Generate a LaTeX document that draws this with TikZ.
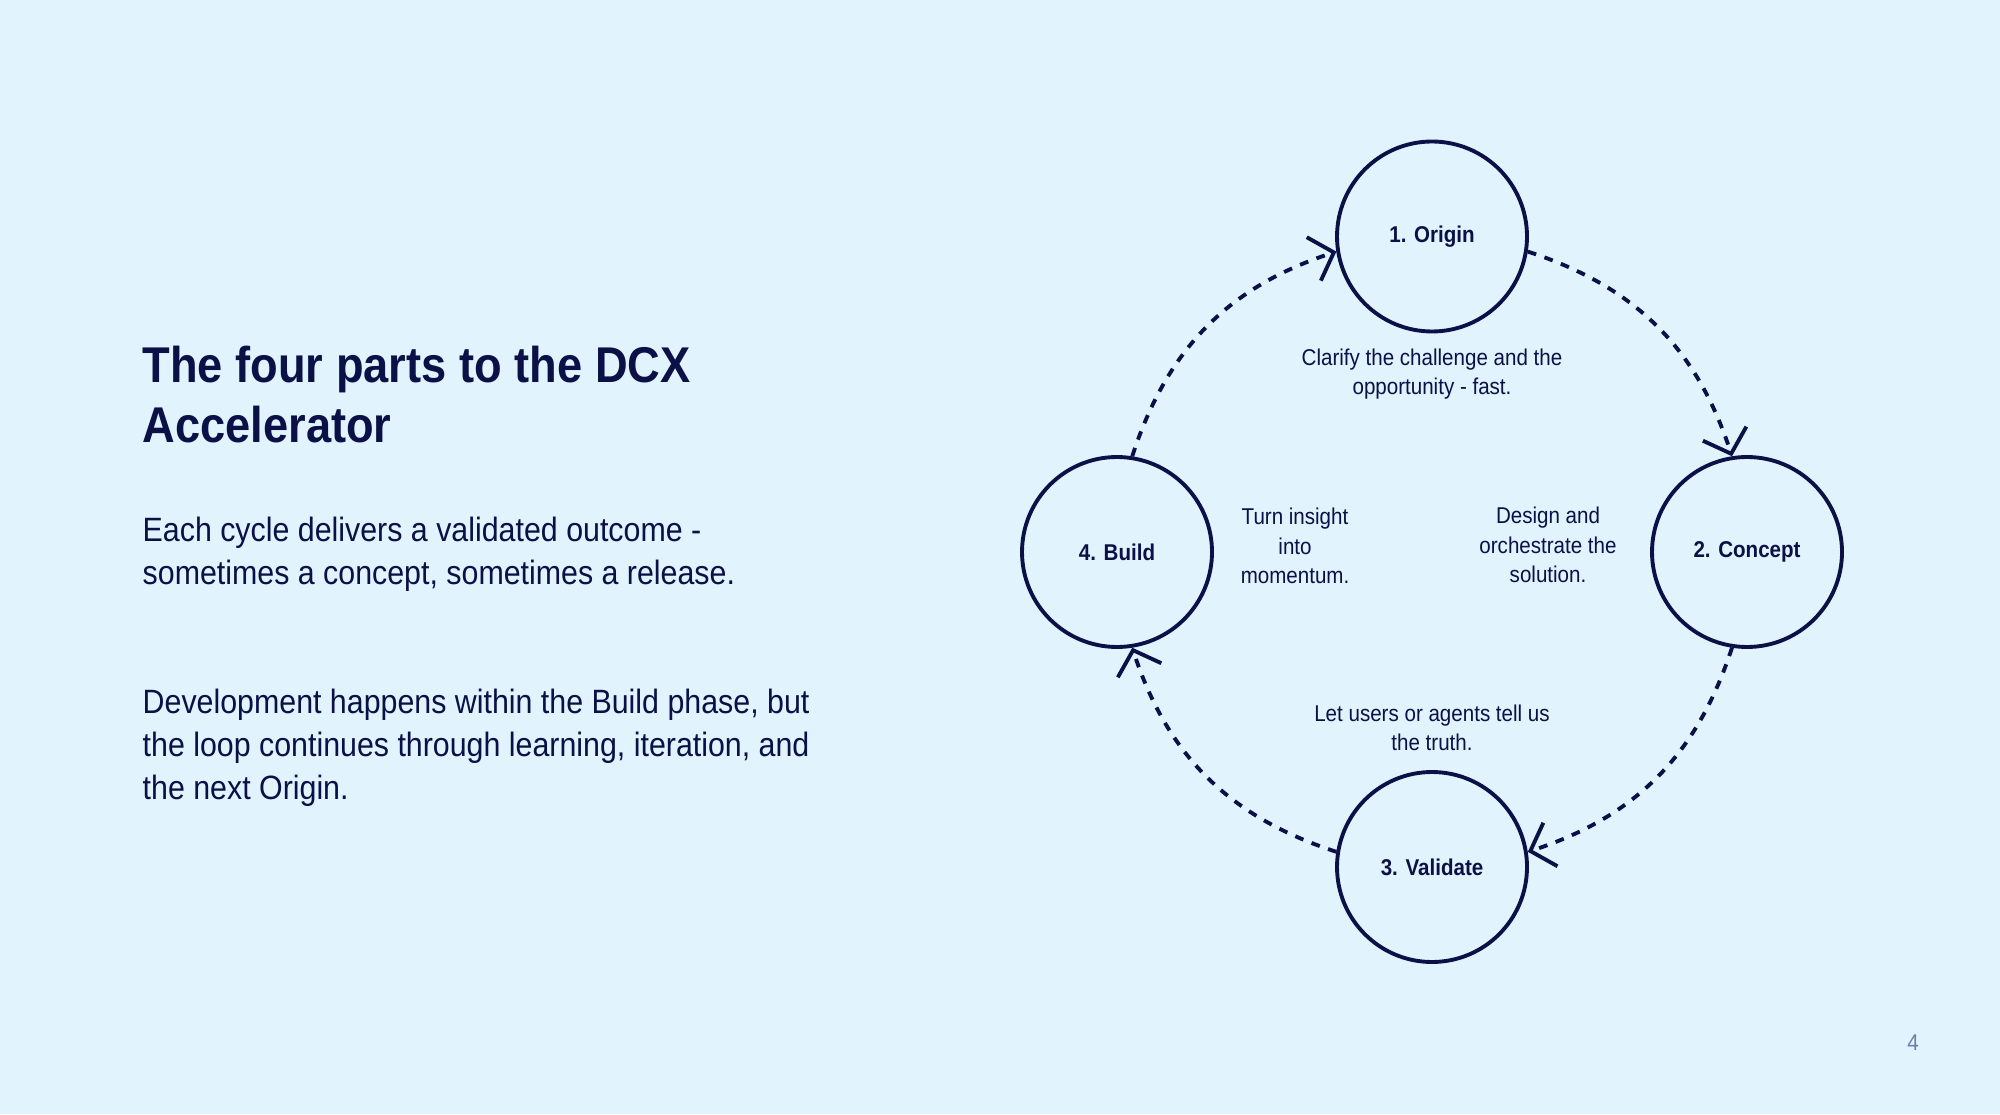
\documentclass[tikz,border=0pt]{standalone}
\usepackage{fontspec}
\setmainfont{Liberation Sans}[FakeStretch=0.9]
\usetikzlibrary{arrows.meta,%
                positioning}
\definecolor{navy}{HTML}{0B1046}
\definecolor{paper}{HTML}{E1F3FD}
\definecolor{pagegray}{HTML}{6F7CA8}
\tikzset{
  phase/.style={circle, draw=navy, line width=1.1pt, minimum size=1.9cm,
                inner sep=0pt, text=navy, font=\fontsize{6.5}{8}\selectfont\bfseries},
  note/.style={align=center, text=navy, font=\fontsize{6.5}{8.3}\selectfont},
  body/.style={anchor=base west, align=left, inner sep=0pt, text=navy,
               font=\fontsize{9.6}{12.1}\selectfont},
  flow/.style={draw=navy, line width=1.1pt, dash pattern=on 2.5pt off 2.5pt,
               -{Straight Barb[length=6pt,width=13pt,line width=1.1pt]}}
}
\begin{document}
\begin{tikzpicture}[scale=0.10]
\fill[paper] (0,0) rectangle (200,111.4);
% left column (base = last line)
\node[body, font=\fontsize{14.3}{17.1}\selectfont\bfseries] (title) at (14.2,67.1)
  {The four parts to the DCX\\Accelerator};
\node[body] (cycle) at (14.2,53.0)
  {Each cycle delivers a validated outcome -\\sometimes a concept, sometimes a release.};
\node[body] (dev) at (14.2,31.5)
  {Development happens within the Build phase, but\\the loop continues through learning, iteration, and\\the next Origin.};
% the loop
\node[phase] (origin) at (143.2,87.75) {1. Origin};
\node[phase] (concept) at (174.7,56.2) {2. Concept};
\node[phase] (validate) at (143.2,24.7) {3. Validate};
\node[phase] (build) at (111.7,56.2) {4. Build};
\draw[flow] (origin.-9) to[out=-18,in=108] (concept.99);
\draw[flow] (concept.-99) to[out=-108,in=18] (validate.9);
\draw[flow] (validate.171) to[out=162,in=-72] (build.-81);
\draw[flow] (build.81) to[out=72,in=-162] (origin.189);
\node[note] (clarify) at (143.2,74.0) {Clarify the challenge and the\\opportunity - fast.};
\node[note] (design) at (154.8,56.9) {Design and\\orchestrate the\\solution.};
\node[note] (letusers) at (143.2,38.6) {Let users or agents tell us\\the truth.};
\node[note] (turn) at (129.5,56.8) {Turn insight\\into\\momentum.};
%\node (page) at (191.3,7.1) {4};
\node[text=pagegray, font=\fontsize{6.5}{7}\selectfont] (page) at (191.3,7.1) {4};
\end{tikzpicture}
\end{document}
